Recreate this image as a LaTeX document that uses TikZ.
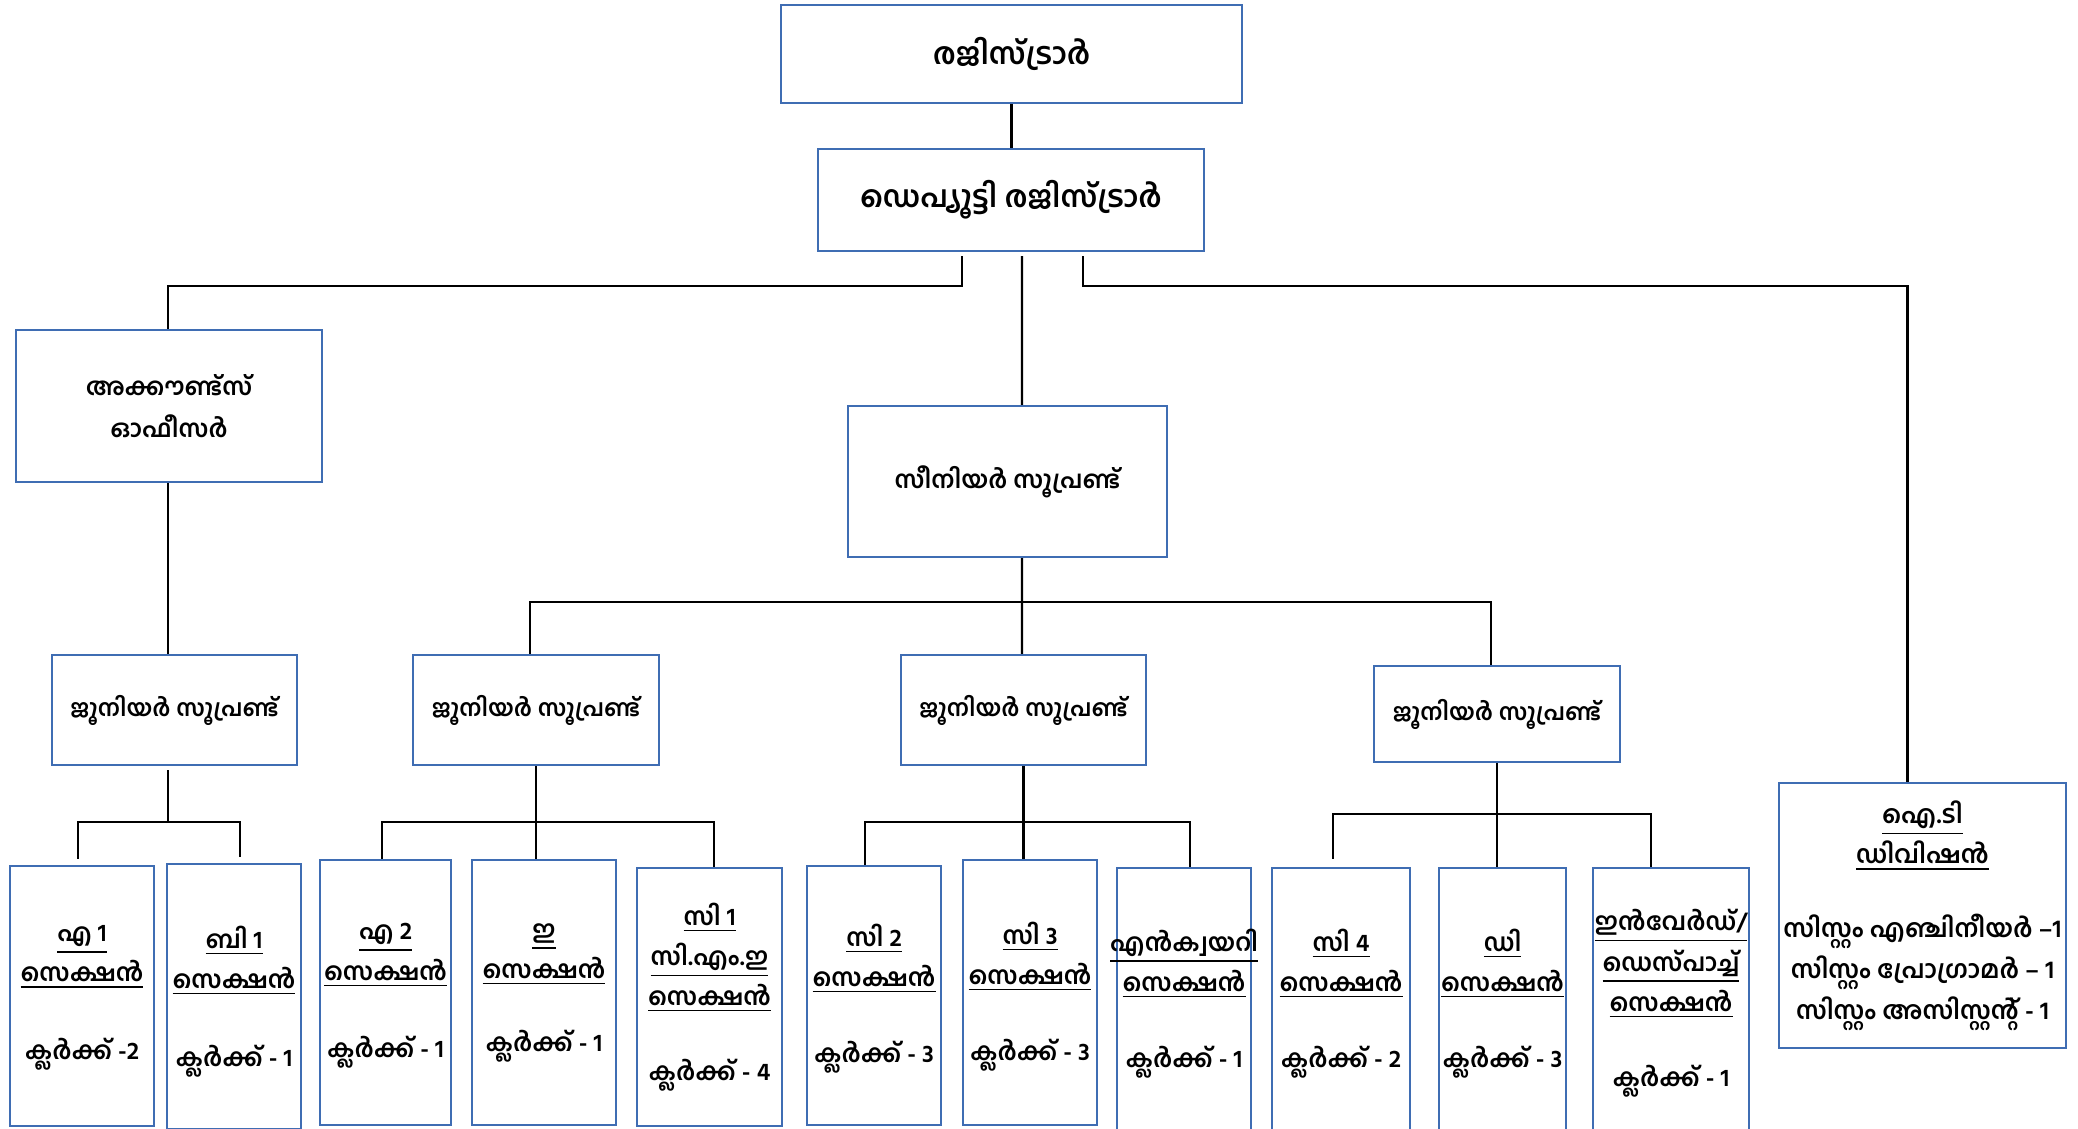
\documentclass[tikz,border=0pt]{standalone}
\usepackage{fontspec}
\newfontfamily\mlfont[Script=Malayalam]{Hind Kochi}
\usetikzlibrary{positioning, calc}
\definecolor{Frame}{HTML}{3F6DB3}
\definecolor{Ink}{HTML}{000000}
\tikzset{
    topbox/.style={rectangle, draw=Frame, line width=0.6pt, align=center, inner sep=0pt, font=\mlfont\bfseries\fontsize{8.5}{11}\selectfont},
    midbox/.style={topbox, font=\mlfont\bfseries\fontsize{6.9}{12}\selectfont},
    jrbox/.style={topbox, font=\mlfont\bfseries\fontsize{6.6}{9}\selectfont},
    itbox/.style={topbox, font=\mlfont\bfseries\fontsize{7.1}{11.6}\selectfont},
    secbox/.style={rectangle, draw=Frame, line width=0.6pt, anchor=north west, inner sep=0pt},
    sectext/.style={anchor=north, align=center, inner sep=0pt, font=\mlfont\bfseries\fontsize{7}{11.4}\selectfont},
    link/.style={draw=Ink, line width=0.6pt},
}
\newcommand{\ul}[1]{\underline{#1}}
\begin{document}
\begin{tikzpicture}[x=0.1mm, y=-0.1mm]
\useasboundingbox (0,0) rectangle (2078,1129);

% Registrar and deputy registrar
\node[topbox, minimum width=46.1mm, minimum height=9.8mm] (reg) at (1011.5,54) {രജിസ്ട്രാർ};
\node[topbox, minimum width=38.6mm, minimum height=10.2mm] (dep) at (1011,200) {ഡെപ്യൂട്ടി രജിസ്ട്രാർ};

% Second level
\node[midbox, minimum width=30.6mm, minimum height=15.2mm] (acc) at (169,406) {അക്കൗണ്ട്സ്\\ഓഫീസർ};
\node[midbox, minimum width=31.9mm, minimum height=15.1mm] (sen) at (1007.5,481.5) {സീനിയർ സൂപ്രണ്ട്};
\node[itbox, minimum width=28.7mm, minimum height=26.5mm] (it) at (1922.5,915.5)
    {\ul{ഐ.ടി}\\ \ul{ഡിവിഷൻ}\\[3.3mm] സിസ്റ്റം എഞ്ചിനീയർ –1\\ സിസ്റ്റം പ്രോഗ്രാമർ – 1\\ സിസ്റ്റം അസിസ്റ്റന്റ് - 1};

% Junior superintendents
\node[jrbox, minimum width=24.5mm, minimum height=11mm] (js1) at (174.5,710) {ജൂനിയർ സൂപ്രണ്ട്};
\node[jrbox, minimum width=24.6mm, minimum height=11mm] (js2) at (536,710) {ജൂനിയർ സൂപ്രണ്ട്};
\node[jrbox, minimum width=24.5mm, minimum height=11mm] (js3) at (1023.5,710) {ജൂനിയർ സൂപ്രണ്ട്};
\node[jrbox, minimum width=24.6mm, minimum height=9.6mm] (js4) at (1497,714) {ജൂനിയർ സൂപ്രണ്ട്};

% Sections
\node[secbox, minimum width=14.4mm, minimum height=26mm] (a1) at (9,865) {};
\node[secbox, minimum width=13.4mm, minimum height=26.5mm] (b1) at (166,863) {};
\node[secbox, minimum width=13.1mm, minimum height=26.5mm] (a2) at (319,859) {};
\node[secbox, minimum width=14.4mm, minimum height=26.5mm] (e) at (471,859) {};
\node[secbox, minimum width=14.5mm, minimum height=25.8mm] (c1) at (636,867) {};
\node[secbox, minimum width=13.4mm, minimum height=25.9mm] (c2) at (806,865) {};
\node[secbox, minimum width=13.4mm, minimum height=26.5mm] (c3) at (962,859) {};
\node[secbox, minimum width=13.4mm, minimum height=28mm] (enq) at (1116,867) {};
\node[secbox, minimum width=13.8mm, minimum height=28mm] (c4) at (1271,867) {};
\node[secbox, minimum width=12.7mm, minimum height=28mm] (d) at (1438,867) {};
\node[secbox, minimum width=15.6mm, minimum height=28mm] (inw) at (1592,867) {};

\node[sectext] (a1t) at ($(a1.north)+(0,60)$) {\ul{എ 1}\\ \ul{സെക്ഷൻ}\\[3.8mm] ക്ലർക്ക് -2};
\node[sectext] (b1t) at ($(b1.north)+(0,62)$) {\ul{ബി 1}\\ \ul{സെക്ഷൻ}\\[3.8mm] ക്ലർക്ക് - 1};
\node[sectext] (a2t) at ($(a2.north)+(0,64)$) {\ul{എ 2}\\ \ul{സെക്ഷൻ}\\[3.7mm] ക്ലർക്ക് - 1};
\node[sectext] (et) at ($(e.north)+(0,64)$) {\ul{ഇ}\\ \ul{സെക്ഷൻ}\\[3.3mm] ക്ലർക്ക് - 1};
\node[sectext] (c1t) at ($(c1.north)+(0,35)$) {\ul{സി 1}\\ \ul{സി.എം.ഇ}\\ \ul{സെക്ഷൻ}\\[3.5mm] ക്ലർക്ക് - 4};
\node[sectext] (c2t) at ($(c2.north)+(0,58)$) {\ul{സി 2}\\ \ul{സെക്ഷൻ}\\[3.6mm] ക്ലർക്ക് - 3};
\node[sectext] (c3t) at ($(c3.north)+(0,62)$) {\ul{സി 3}\\ \ul{സെക്ഷൻ}\\[3.6mm] ക്ലർക്ക് - 3};
\node[sectext] (enqt) at ($(enq.north)+(0,61)$) {\ul{എൻക്വയറി}\\ \ul{സെക്ഷൻ}\\[3.6mm] ക്ലർക്ക് - 1};
\node[sectext] (c4t) at ($(c4.north)+(0,61)$) {\ul{സി 4}\\ \ul{സെക്ഷൻ}\\[3.6mm] ക്ലർക്ക് - 2};
\node[sectext] (dt) at ($(d.north)+(0,61)$) {\ul{ഡി}\\ \ul{സെക്ഷൻ}\\[3.6mm] ക്ലർക്ക് - 3};
\node[sectext] (inwt) at ($(inw.north)+(0,42)$) {\ul{ഇൻവേർഡ്/}\\ \ul{ഡെസ്പാച്ച്}\\ \ul{സെക്ഷൻ}\\[3.5mm] ക്ലർക്ക് - 1};

% Connectors
\draw[link] (reg.south) -- (reg.south |- dep.north);
\draw[link] ($(dep.south)+(-49,4)$) -- ($(dep.south)+(-49,34)$) -| ($(acc.north)+(-1,0)$);
\draw[link] ($(dep.south)+(11,4)$) -- ($(sen.north)+(14.5,0)$);
\draw[link] ($(dep.south)+(72,4)$) -- ($(dep.south)+(72,34)$) -| ($(it.north)+(-15,0)$);
\draw[link] ($(acc.south)+(-1,0)$) -- ($(js1.north)+(-6.5,0)$);

\draw[link] ($(sen.south)+(14.5,0)$) -- ($(js3.north)+(-1.5,0)$);
\draw[link] ($(js2.north)+(-6,0)$) |- ($(js4.north)+(-6,-63)$) -- ($(js4.north)+(-6,0)$);

\draw[link] ($(js1.south)+(-6.5,4)$) -- ($(js1.south)+(-6.5,57)$);
\draw[link] ($(a1.north)+(-4,-6)$) |- ($(b1.north)+(6,-41)$) -- ($(b1.north)+(6,-6)$);

\draw[link] (js2.south) -- (js2.south |- e.north);
\draw[link] ($(a2.north)+(-4,0)$) |- ($(c1.north)+(4,-45)$) -- ($(c1.north)+(4,0)$);

\draw[link] (js3.south) -- (js3.south |- c3.north);
\draw[link] ($(c2.north)+(-9,0)$) |- ($(enq.north)+(6,-45)$) -- ($(enq.north)+(6,0)$);

\draw[link] (js4.south) -- (js4.south |- d.north);
\draw[link] ($(c4.north)+(-8,-8)$) |- ($(inw.north)+(-20,-53)$) -- ($(inw.north)+(-20,0)$);
\end{tikzpicture}
\end{document}
